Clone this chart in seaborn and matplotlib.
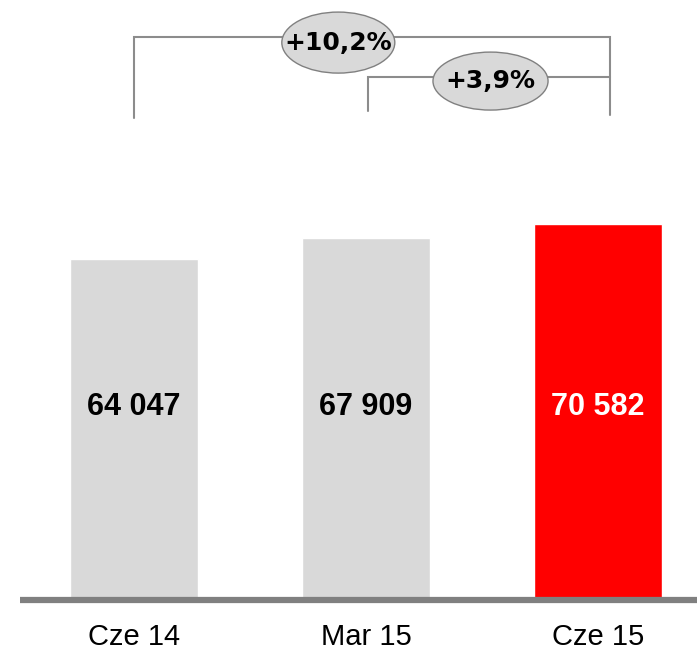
import matplotlib
matplotlib.use("Agg")
import matplotlib.pyplot as plt
from matplotlib.patches import Ellipse
import seaborn as sns
import pandas as pd

categories = ["Cze 14", "Mar 15", "Cze 15"]
values = [64047, 67909, 70582]
bar_colors = ["#d9d9d9", "#d9d9d9", "#ff0000"]
label_colors = ["black", "black", "white"]
growth_labels = ["+10,2%", "+3,9%"]

sns.set_theme(style="white")
plt.rcParams['font.family'] = ['Liberation Sans', 'DejaVu Sans']

df = pd.DataFrame({"cat": categories, "val": values})

fig = plt.figure(figsize=(6.97, 6.52), dpi=100)
ax = fig.add_axes([20/697, 52/652, 677/697, 600/652])
sns.barplot(data=df, x="cat", y="val", hue="cat", palette=bar_colors,
            legend=False, width=0.552, saturation=1, ax=ax)
ax.set_xlim(-0.491, 2.427)
ax.set_ylim(0, 112700)
ax.set_xlabel("")
ax.set_ylabel("")
ax.set_yticks([])
for s in ["top", "right", "left"]:
    ax.spines[s].set_visible(False)
ax.spines["bottom"].set_color("#808080")
ax.spines["bottom"].set_linewidth(4.5)
ax.spines["bottom"].set_capstyle("butt")
ax.tick_params(axis="x", length=0, pad=16.5)
for lbl in ax.get_xticklabels():
    lbl.set_fontsize(21)
    lbl.set_color("black")

def fmt(v):
    return f"{v:,}".replace(",", " ")

for i, (v, c) in enumerate(zip(values, label_colors)):
    ax.text(i, 36200, fmt(v), ha="center", va="center", fontsize=22,
            fontweight="bold", color=c)

lc = "#8c8c8c"
lw = 1.5
# outer bracket: Cze 14 -> Cze 15
x0, x2 = 0.0, 2.05
ax.plot([x0, x0, x2, x2], [90520, 105730, 105730, 91080], color=lc, lw=lw,
        clip_on=False, solid_joinstyle="miter")
# inner bracket: Mar 15 -> Cze 15
x1 = 1.01
ax.plot([x1, x1, x2], [91840, 98220, 98220], color=lc, lw=lw,
        clip_on=False, solid_joinstyle="miter")

ell = [((0.881, 104700), 0.487, 11460), ((1.537, 97470), 0.496, 10890)]
for (center, w, h), txt in zip(ell, growth_labels):
    ax.add_patch(Ellipse(center, w, h, facecolor="#d9d9d9", edgecolor="#808080",
                         lw=1.0, zorder=5, clip_on=False))
    ax.text(center[0], center[1], txt, ha="center", va="center", fontsize=18,
            fontweight="bold", color="black", zorder=6, family="DejaVu Sans")

fig.savefig("out.png", dpi=100)
